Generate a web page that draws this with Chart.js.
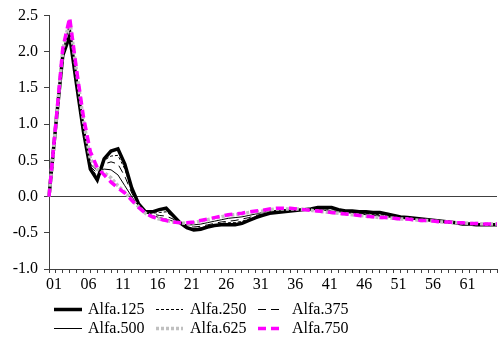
<!DOCTYPE html>
<html><head><meta charset="utf-8">
<script src="https://cdn.jsdelivr.net/npm/chart.js@4.4.1/dist/chart.umd.min.js"></script>
<style>
html,body{margin:0;padding:0;background:#fff;}
#wrap{position:relative;width:500px;height:338px;}
#legend{position:absolute;left:0;top:0;width:500px;height:338px;pointer-events:none;font-family:"Liberation Serif","Times New Roman",serif;font-size:16px;color:#000;}
.item{position:absolute;height:18px;line-height:18px;white-space:nowrap;}
.item svg{position:absolute;left:0;top:0;}
.item span{position:absolute;left:34px;top:0;}
</style></head>
<body><div id="wrap"><canvas id="c" width="500" height="338"></canvas><div id="legend"></div></div>
<script>
const categories = ["01","02","03","04","05","06","07","08","09","10","11","12","13","14","15","16","17","18","19","20","21","22","23","24","25","26","27","28","29","30","31","32","33","34","35","36","37","38","39","40","41","42","43","44","45","46","47","48","49","50","51","52","53","54","55","56","57","58","59","60","61","62","63","64","65","66"];
const xTickLabels = ["01","06","11","16","21","26","31","36","41","46","51","56","61"];
const seriesNames = ["Alfa.125","Alfa.250","Alfa.375","Alfa.500","Alfa.625","Alfa.750"];

const alfa125 = [0,1.0,1.95,2.22,1.55,0.9,0.38,0.23,0.52,0.63,
 0.66,0.45,0.12,-0.1,-0.21,-0.21,-0.18,-0.16,-0.26,-0.36,
 -0.43,-0.46,-0.45,-0.42,-0.4,-0.39,-0.39,-0.39,-0.37,-0.33,
 -0.29,-0.26,-0.23,-0.22,-0.21,-0.2,-0.19,-0.18,-0.17,-0.15,
 -0.15,-0.15,-0.18,-0.2,-0.2,-0.21,-0.21,-0.22,-0.22,-0.24,
 -0.26,-0.28,-0.29,-0.3,-0.31,-0.32,-0.33,-0.34,-0.35,-0.36,
 -0.38,-0.38,-0.39,-0.39,-0.39,-0.39];
const alfa250 = [0,1.0,1.97,2.28,1.58,0.93,0.4,0.28,0.5,0.56,
 0.57,0.38,0.08,-0.11,-0.21,-0.23,-0.22,-0.21,-0.28,-0.37,
 -0.42,-0.44,-0.43,-0.41,-0.39,-0.37,-0.36,-0.36,-0.34,-0.31,
 -0.28,-0.25,-0.23,-0.21,-0.2,-0.19,-0.18,-0.17,-0.17,-0.16,
 -0.16,-0.17,-0.18,-0.2,-0.21,-0.22,-0.23,-0.24,-0.25,-0.26,
 -0.27,-0.29,-0.3,-0.31,-0.32,-0.33,-0.33,-0.34,-0.35,-0.36,
 -0.37,-0.38,-0.38,-0.39,-0.39,-0.39];
const alfa375 = [0,1.0,1.99,2.35,1.63,0.96,0.42,0.32,0.45,0.48,
 0.45,0.28,0.05,-0.12,-0.22,-0.24,-0.26,-0.27,-0.31,-0.38,
 -0.41,-0.42,-0.41,-0.39,-0.37,-0.35,-0.34,-0.33,-0.31,-0.29,
 -0.26,-0.24,-0.22,-0.2,-0.19,-0.19,-0.18,-0.18,-0.17,-0.17,
 -0.17,-0.18,-0.19,-0.21,-0.22,-0.23,-0.24,-0.25,-0.26,-0.27,
 -0.28,-0.29,-0.3,-0.31,-0.32,-0.33,-0.34,-0.34,-0.35,-0.36,
 -0.37,-0.37,-0.38,-0.38,-0.39,-0.39];
const alfa500 = [0,1.0,2.0,2.4,1.68,1.0,0.45,0.36,0.38,0.37,
 0.3,0.15,0.0,-0.13,-0.22,-0.26,-0.29,-0.31,-0.34,-0.37,
 -0.39,-0.39,-0.38,-0.36,-0.34,-0.32,-0.3,-0.29,-0.28,-0.26,
 -0.24,-0.22,-0.2,-0.19,-0.18,-0.18,-0.18,-0.18,-0.18,-0.18,
 -0.19,-0.2,-0.21,-0.22,-0.23,-0.24,-0.25,-0.26,-0.27,-0.28,
 -0.29,-0.3,-0.31,-0.31,-0.32,-0.33,-0.34,-0.35,-0.35,-0.36,
 -0.37,-0.37,-0.38,-0.38,-0.38,-0.38];
const alfa625 = [0,1.01,2.03,2.44,1.72,1.05,0.52,0.38,0.33,0.26,
 0.15,0.06,-0.04,-0.14,-0.23,-0.28,-0.31,-0.33,-0.35,-0.36,
 -0.37,-0.36,-0.34,-0.32,-0.3,-0.28,-0.26,-0.25,-0.24,-0.22,
 -0.21,-0.2,-0.18,-0.17,-0.17,-0.17,-0.17,-0.18,-0.19,-0.2,
 -0.21,-0.22,-0.23,-0.24,-0.25,-0.26,-0.27,-0.28,-0.29,-0.29,
 -0.3,-0.31,-0.31,-0.32,-0.33,-0.33,-0.34,-0.35,-0.35,-0.36,
 -0.36,-0.37,-0.37,-0.38,-0.38,-0.38];
const alfa750 = [0,1.02,2.05,2.47,1.75,1.1,0.62,0.4,0.3,0.2,
 0.12,0.05,-0.05,-0.15,-0.23,-0.28,-0.31,-0.33,-0.35,-0.36,
 -0.36,-0.35,-0.33,-0.31,-0.29,-0.27,-0.25,-0.24,-0.23,-0.21,
 -0.2,-0.19,-0.17,-0.16,-0.16,-0.16,-0.17,-0.18,-0.19,-0.2,
 -0.21,-0.22,-0.23,-0.24,-0.25,-0.26,-0.27,-0.28,-0.29,-0.29,
 -0.3,-0.31,-0.31,-0.32,-0.33,-0.33,-0.34,-0.35,-0.35,-0.36,
 -0.36,-0.37,-0.37,-0.38,-0.38,-0.38];

const seriesValues = [alfa125, alfa250, alfa375, alfa500, alfa625, alfa750];
const seriesStyles = [
  {color:'#000000', width:3.5, dash:[], order:6, sample:28},
  {color:'#000000', width:1, dash:[3,2], order:5, sample:27},
  {color:'#000000', width:1, dash:[8,5], order:4, sample:21},
  {color:'#000000', width:1, dash:[], order:3, sample:28},
  {color:'#c0c0c0', width:3.5, dash:[3,2], order:2, sample:27},
  {color:'#ff00ff', width:3.5, dash:[8,5], order:1, sample:21}
];
const FONT = '"Liberation Serif","Times New Roman",serif';

const datasets = seriesNames.map((n,i)=>({
  label:n, data:seriesValues[i],
  borderColor:seriesStyles[i].color, backgroundColor:seriesStyles[i].color,
  borderWidth:seriesStyles[i].width, borderDash:seriesStyles[i].dash,
  order:seriesStyles[i].order, pointRadius:0, tension:0, fill:false,
  borderCapStyle:'butt', borderJoinStyle:'miter'
}));

new Chart(document.getElementById('c'), {
  type:'line',
  data:{labels:categories, datasets:datasets},
  options:{
    responsive:false, animation:false,
    layout:{padding:{left:0,right:3,top:15,bottom:40}},
    plugins:{legend:{display:false}, tooltip:{enabled:false}},
    scales:{
      x:{type:'category', offset:false,
        grid:{display:true, drawOnChartArea:false, drawTicks:true, tickLength:4, tickColor:'#404040', color:'#404040'},
        border:{display:true, color:'#404040', width:1},
        ticks:{autoSkip:false, maxRotation:0, minRotation:0, labelOffset:5, padding:2, color:'#000',
          font:{family:FONT, size:16},
          callback:function(v,i){const l=categories[i]; return xTickLabels.includes(l)?l:'';}},
        afterFit:(s)=>{s.height=29;}
      },
      y:{min:-1, max:2.5,
        ticks:{stepSize:0.5, padding:6, color:'#000', font:{family:FONT, size:16},
          callback:(v)=>Number(v).toFixed(1)},
        grid:{drawOnChartArea:true, drawTicks:true, tickLength:5, tickColor:'#404040', lineWidth:1,
          color:(c)=>(c.tick && Math.abs(c.tick.value)<1e-9)?'#404040':'rgba(0,0,0,0)'},
        border:{display:true, color:'#404040', width:1},
        afterFit:(s)=>{s.width=49;}
      }
    }
  }
});

// HTML legend
const legendLayout = [
  {x:54, y:300}, {x:156, y:300}, {x:258, y:300},
  {x:54, y:319}, {x:156, y:319}, {x:258, y:319}
];
const leg = document.getElementById('legend');
seriesNames.forEach((n,i)=>{
  const st = seriesStyles[i];
  const d = document.createElement('div');
  d.className='item';
  d.style.left = legendLayout[i].x+'px';
  d.style.top = legendLayout[i].y+'px';
  const dash = st.dash.length ? ` stroke-dasharray="${st.dash.join(',')}"` : '';
  d.innerHTML = `<svg width="30" height="18"><line x1="0" y1="9.5" x2="${st.sample}" y2="9.5" stroke="${st.color}" stroke-width="${st.width}"${dash}/></svg><span>${n}</span>`;
  leg.appendChild(d);
});
</script>
</body></html>
